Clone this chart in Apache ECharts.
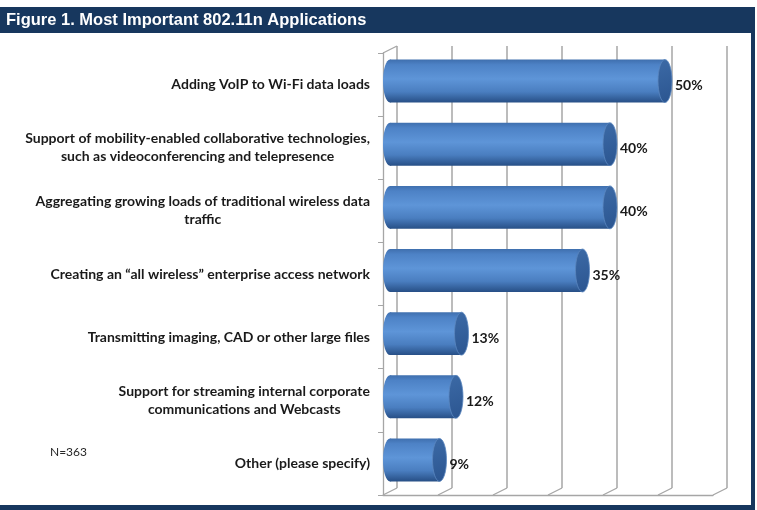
<!DOCTYPE html>
<html>
<head>
<meta charset="utf-8">
<script src="https://cdn.jsdelivr.net/npm/echarts@6/dist/echarts.min.js"></script>
<style>
    html, body { margin: 0; padding: 0; background: #fff; }
    #chart { width: 757px; height: 510px; }
</style>
</head>
<body>
<div id="chart"></div>
<script>
// 数据
const categories = [
    'Adding VoIP to Wi-Fi data loads',
    'Support of mobility-enabled collaborative technologies,\nsuch as videoconferencing and telepresence',
    'Aggregating growing loads of traditional wireless data\ntraffic',
    'Creating an \u201call wireless\u201d enterprise access network',
    'Transmitting imaging, CAD or other large files',
    'Support for streaming internal corporate\ncommunications and Webcasts',
    'Other (please specify)'
];
const values = [50, 40, 40, 35, 13, 12, 9];
const axisTicks = [0, 10, 20, 30, 40, 50, 60];

const navy = '#17375e';
const gridGray = '#a6a6a6';
const labelFont = 'Lato, "Open Sans", sans-serif';
// 3D深度偏移
const DX = 14, DY = 7;

const chart = echarts.init(document.getElementById('chart'), null, { renderer: 'canvas' });

// 圆柱体
function renderCylinder(params, api) {
    const cat = api.value(0);
    const val = api.value(1);
    const start = api.coord([0, cat]);
    const end = api.coord([val, cat]);
    const h = api.size([0, 1])[1] * 0.68;
    const rx = DX / 2;
    const cy = start[1] - DY / 2;
    const x0 = start[0] + rx;
    const x1 = end[0] + rx;
    const bodyFill = new echarts.graphic.LinearGradient(0, 0, 0, 1, [
        { offset: 0, color: '#3f6fae' },
        { offset: 0.12, color: '#4d82c6' },
        { offset: 0.45, color: '#5e95d8' },
        { offset: 0.75, color: '#4a7ec0' },
        { offset: 1, color: '#274f86' }
    ]);
    const capFill = new echarts.graphic.LinearGradient(0, 0, 1, 1, [
        { offset: 0, color: '#3c6aa6' },
        { offset: 1, color: '#2b5590' }
    ]);
    return {
        type: 'group',
        children: [
            {
                type: 'ellipse',
                shape: { cx: x0, cy: cy, rx: rx, ry: h / 2 },
                style: { fill: bodyFill }
            },
            {
                type: 'rect',
                shape: { x: x0, y: cy - h / 2, width: x1 - x0, height: h },
                style: { fill: bodyFill }
            },
            {
                type: 'ellipse',
                shape: { cx: x1, cy: cy, rx: rx, ry: h / 2 },
                style: { fill: capFill, stroke: '#5a86bf', lineWidth: 0.8 }
            },
            {
                type: 'text',
                style: {
                    x: x1 + rx + 3,
                    y: start[1] + 1,
                    text: val + '%',
                    fill: '#1a1a1a',
                    fontFamily: labelFont,
                    fontWeight: 'bold',
                    fontSize: 14,
                    verticalAlign: 'middle'
                }
            }
        ]
    };
}

// 地板斜线
function renderFloor(params, api) {
    const v = api.value(0);
    const cs = params.coordSys;
    const x = api.coord([v, 0])[0];
    const yb = cs.y + cs.height;
    const children = [{
        type: 'line',
        shape: { x1: x, y1: yb, x2: x + DX, y2: yb - DY },
        style: { stroke: gridGray, lineWidth: 1.3 }
    }];
    if (v === 0) {
        children.push({
            type: 'line',
            shape: { x1: x, y1: cs.y, x2: x + DX, y2: cs.y - DY },
            style: { stroke: gridGray, lineWidth: 1.3 }
        });
    }
    return { type: 'group', children: children };
}

const option = {
    backgroundColor: '#fff',
    animation: false,
    title: {
        text: 'Figure 1. Most Important 802.11n Applications',
        left: 6,
        top: 12,
        padding: 0,
        textStyle: {
            color: '#fff',
            fontFamily: '"Liberation Sans", Arial, sans-serif',
            fontWeight: 'bold',
            fontSize: 16.5
        },
        z: 10
    },
    graphic: [
        { type: 'rect', shape: { x: 0, y: 7, width: 755, height: 26 }, style: { fill: navy }, z: 1 },
        { type: 'rect', shape: { x: 751, y: 7, width: 4, height: 503 }, style: { fill: navy }, z: 1 },
        { type: 'rect', shape: { x: 0, y: 505, width: 755, height: 5 }, style: { fill: navy }, z: 1 },
        {
            type: 'text',
            left: 50,
            top: 446,
            style: {
                text: 'N=363',
                fill: '#262626',
                font: '12px Lato, "Open Sans", sans-serif'
            }
        }
    ],
    grid: [
        { left: 383, top: 53, width: 330, height: 442 },
        { left: 383 + DX, top: 53 - DY, width: 330, height: 442 }
    ],
    xAxis: [
        {
            gridIndex: 0,
            type: 'value',
            min: 0,
            max: 60,
            interval: 10,
            axisLine: { show: true, lineStyle: { color: gridGray, width: 1.3 } },
            axisTick: { show: false },
            axisLabel: { show: false },
            splitLine: { show: false }
        },
        {
            gridIndex: 1,
            type: 'value',
            min: 0,
            max: 60,
            interval: 10,
            axisLine: { show: false },
            axisTick: { show: false },
            axisLabel: { show: false },
            splitLine: { show: true, lineStyle: { color: gridGray, width: 1.5 } }
        }
    ],
    yAxis: [
        {
            gridIndex: 0,
            type: 'category',
            inverse: true,
            data: categories,
            axisLine: { show: true, lineStyle: { color: gridGray, width: 1.3 } },
            axisTick: { show: true, length: 5, lineStyle: { color: gridGray } },
            axisLabel: {
                margin: 13,
                color: '#1a1a1a',
                fontFamily: labelFont,
                fontWeight: 'bold',
                fontSize: 14,
                lineHeight: 18,
                align: 'right',
                formatter: function (s) {
                    return s.split('\n').map(function (line) { return '{c|' + line + '}'; }).join('\n');
                },
                rich: {
                    c: {
                        align: 'center',
                        color: '#1a1a1a',
                        fontFamily: labelFont,
                        fontWeight: 'bold',
                        fontSize: 14,
                        lineHeight: 18
                    }
                }
            },
            splitLine: { show: false }
        },
        {
            gridIndex: 1,
            type: 'category',
            inverse: true,
            data: categories,
            show: false
        }
    ],
    series: [
        {
            type: 'custom',
            name: 'floor',
            xAxisIndex: 0,
            yAxisIndex: 0,
            renderItem: renderFloor,
            data: axisTicks.map(function (t) { return [t, 0]; }),
            encode: { x: 0 },
            silent: true,
            z: 1
        },
        {
            type: 'custom',
            name: 'bars',
            xAxisIndex: 0,
            yAxisIndex: 0,
            renderItem: renderCylinder,
            data: values.map(function (v, i) { return [i, v]; }),
            encode: { y: 0, x: 1 },
            z: 5
        }
    ]
};

chart.setOption(option);
</script>
</body>
</html>
